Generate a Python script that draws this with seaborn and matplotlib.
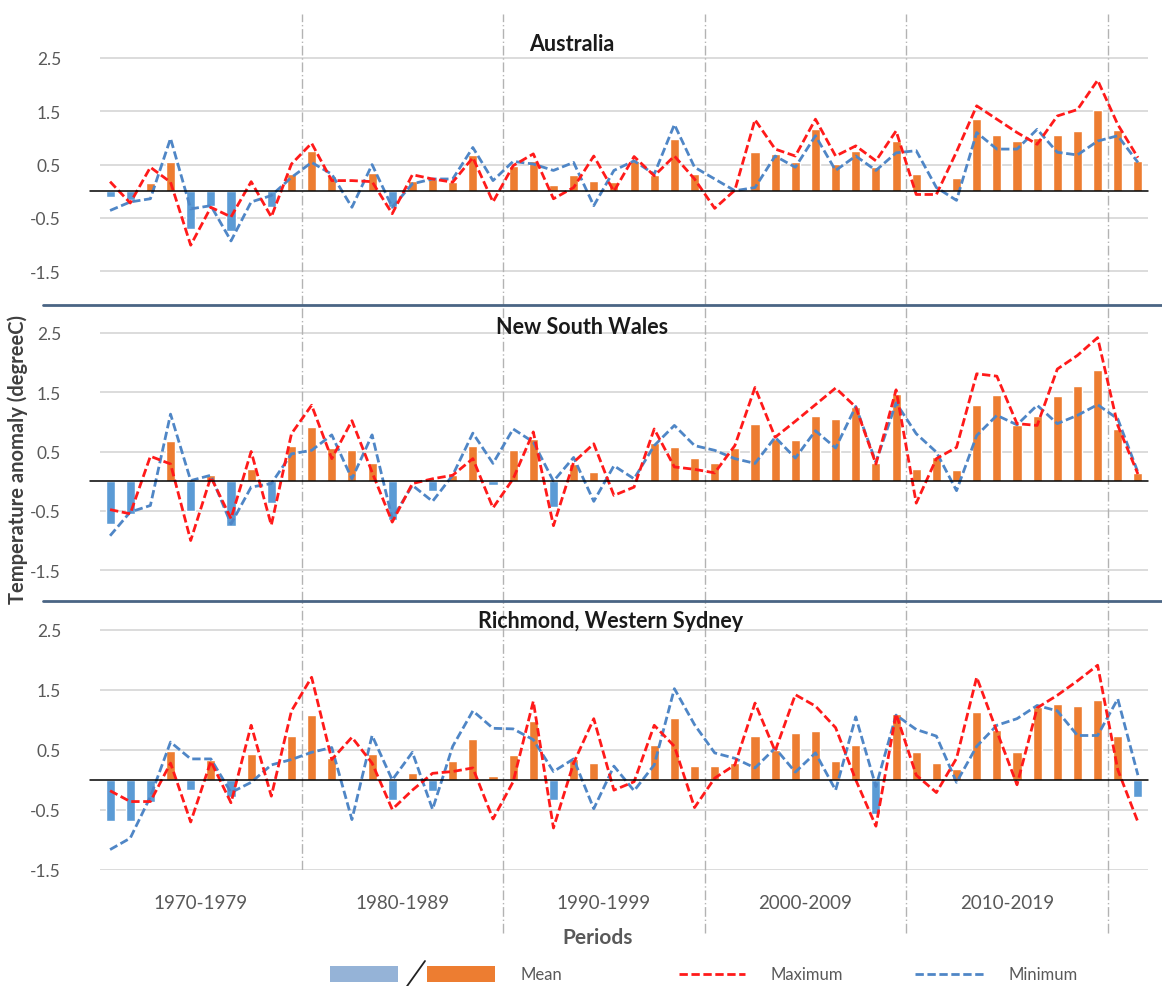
import numpy as np
import pandas as pd
import matplotlib.pyplot as plt
import seaborn as sns
from matplotlib.lines import Line2D
from matplotlib.patches import Rectangle

# ---- data (temperature anomalies, degC) ----
years = list(range(1970, 2022))
periods = ['1970-1979', '1980-1989', '1990-1999', '2000-2009', '2010-2019']

aus_mean = [-0.10, -0.17, 0.15, 0.54, -0.70, -0.27, -0.75, -0.02, -0.30, 0.32,
            0.75, 0.29, 0.02, 0.35, -0.30, 0.20, 0.23, 0.18, 0.68, 0.00,
            0.48, 0.57, 0.12, 0.31, 0.19, 0.17, 0.56, 0.31, 0.98, 0.32,
            0.00, 0.00, 0.73, 0.70, 0.54, 1.16, 0.51, 0.76, 0.45, 0.94,
            0.32, 0.00, 0.25, 1.35, 1.05, 0.94, 1.00, 1.05, 1.12, 1.52,
            1.14, 0.56]
aus_max = [0.18, -0.22, 0.45, 0.17, -1.01, -0.30, -0.48, 0.18, -0.48, 0.51,
           0.90, 0.20, 0.20, 0.18, -0.42, 0.31, 0.23, 0.17, 0.63, -0.20,
           0.48, 0.70, -0.14, 0.07, 0.66, 0.00, 0.65, 0.29, 0.66, 0.23,
           -0.32, 0.02, 1.34, 0.79, 0.66, 1.35, 0.66, 0.85, 0.57, 1.13,
           -0.06, -0.06, 0.74, 1.60, 1.35, 1.10, 0.88, 1.41, 1.53, 2.08,
           1.25, 0.63]
aus_min = [-0.36, -0.20, -0.14, 0.99, -0.33, -0.27, -0.93, -0.20, -0.08, 0.26,
           0.54, 0.32, -0.30, 0.50, -0.30, 0.14, 0.23, 0.23, 0.82, 0.20,
           0.56, 0.51, 0.39, 0.54, -0.27, 0.39, 0.57, 0.32, 1.25, 0.45,
           0.23, 0.01, 0.07, 0.66, 0.45, 1.04, 0.39, 0.66, 0.39, 0.72,
           0.76, 0.07, -0.17, 1.10, 0.79, 0.79, 1.16, 0.73, 0.68, 0.94,
           1.04, 0.54]

nsw_mean = [-0.72, -0.55, -0.02, 0.67, -0.51, 0.10, -0.75, 0.21, -0.37, 0.60,
            0.91, 0.56, 0.53, 0.31, -0.66, 0.00, -0.17, 0.10, 0.60, -0.07,
            0.52, 0.71, -0.44, 0.29, 0.15, 0.00, 0.00, 0.65, 0.58, 0.39,
            0.31, 0.56, 0.96, 0.71, 0.69, 1.10, 1.05, 1.25, 0.31, 1.47,
            0.21, 0.40, 0.19, 1.28, 1.46, 0.95, 1.10, 1.43, 1.60, 1.87,
            0.88, 0.13]
nsw_max = [-0.48, -0.55, 0.42, 0.29, -1.00, 0.07, -0.63, 0.50, -0.74, 0.80,
           1.28, 0.38, 1.02, 0.15, -0.69, -0.04, 0.04, 0.10, 0.38, -0.45,
           0.04, 0.83, -0.75, 0.32, 0.63, -0.24, -0.10, 0.88, 0.24, 0.20,
           0.14, 0.60, 1.58, 0.74, 1.01, 1.29, 1.57, 1.25, 0.29, 1.54,
           -0.37, 0.38, 0.57, 1.81, 1.77, 0.97, 0.94, 1.89, 2.12, 2.42,
           0.94, 0.12]
nsw_min = [-0.92, -0.52, -0.41, 1.13, 0.01, 0.10, -0.72, -0.10, -0.04, 0.46,
           0.52, 0.78, 0.04, 0.78, -0.63, -0.07, -0.34, 0.10, 0.81, 0.30,
           0.88, 0.66, 0.00, 0.40, -0.34, 0.26, 0.04, 0.60, 0.94, 0.60,
           0.52, 0.38, 0.30, 0.74, 0.39, 0.85, 0.56, 1.26, 0.32, 1.32,
           0.80, 0.49, -0.16, 0.77, 1.11, 0.95, 1.28, 0.97, 1.11, 1.29,
           1.05, 0.15]

ws_mean = [-0.68, -0.68, -0.36, 0.48, -0.17, 0.34, -0.28, 0.43, 0.00, 0.73,
           1.08, 0.36, 0.02, 0.44, -0.34, 0.11, -0.18, 0.32, 0.68, 0.07,
           0.42, 0.98, -0.34, 0.35, 0.28, 0.00, 0.00, 0.59, 1.03, 0.23,
           0.23, 0.29, 0.74, 0.50, 0.78, 0.82, 0.32, 0.59, -0.56, 1.09,
           0.46, 0.28, 0.18, 1.13, 0.83, 0.46, 1.22, 1.27, 1.23, 1.33,
           0.73, -0.29]
ws_max = [-0.18, -0.36, -0.36, 0.28, -0.70, 0.31, -0.38, 0.91, -0.27, 1.15,
          1.71, 0.34, 0.71, 0.28, -0.49, -0.17, 0.11, 0.14, 0.20, -0.65,
          -0.03, 1.31, -0.80, 0.28, 1.02, -0.17, -0.03, 0.91, 0.56, -0.46,
          0.03, 0.25, 1.28, 0.48, 1.42, 1.23, 0.87, 0.00, -0.77, 1.10,
          0.08, -0.21, 0.36, 1.71, 0.81, -0.08, 1.20, 1.41, 1.65, 1.91,
          0.17, -0.70]
ws_min = [-1.16, -0.97, -0.28, 0.63, 0.35, 0.35, -0.21, -0.04, 0.25, 0.34,
          0.46, 0.54, -0.66, 0.74, 0.00, 0.46, -0.49, 0.56, 1.15, 0.86,
          0.85, 0.67, 0.14, 0.35, -0.48, 0.23, -0.18, 0.25, 1.52, 0.92,
          0.45, 0.36, 0.20, 0.53, 0.13, 0.45, -0.17, 1.05, -0.11, 1.08,
          0.84, 0.73, -0.04, 0.56, 0.91, 1.02, 1.24, 1.15, 0.74, 0.74,
          1.35, 0.08]

titles = ['Australia', 'New South Wales', 'Richmond, Western Sydney']

# ---- styling ----
BLUE = '#5b9bd5'
ORANGE = '#ed7d31'
RED = '#ff1a1a'
MINBLUE = '#4f86c6'
GRID = '#d9d9d9'
SEP = '#b3b3b3'
TXT = '#595959'

sns.set_theme(style='white')
plt.rcParams['font.family'] = ['Lato', 'DejaVu Sans']

W, H = 1162, 987
fig = plt.figure(figsize=(W / 100, H / 100), dpi=100)

# pixel layout of the three stacked panels: (top, bottom, ylim)
left_px, right_px = 100, 1148
panels = [
    (15, 306, (-2.13, 3.32)),
    (306, 602, (-2.02, 2.97)),
    (602, 871, (-1.50, 2.98)),
]
title_pos = [(0.450, 0.897), (0.460, 0.929), (0.487, 0.926)]
series = [(aus_mean, aus_max, aus_min), (nsw_mean, nsw_max, nsw_min),
          (ws_mean, ws_max, ws_min)]

idx = np.arange(len(years))
seps = [9.5, 19.5, 29.5, 39.5, 49.5]
centers = [4.5, 14.5, 24.5, 34.5, 44.5]

axes = []
for k, ((top, bot, ylim), (mean, tmax, tmin)) in enumerate(zip(panels, series)):
    ax = fig.add_axes([left_px / W, 1 - bot / H, (right_px - left_px) / W, (bot - top) / H])
    axes.append(ax)
    df = pd.DataFrame({'year': years, 'mean': mean,
                       'sign': ['neg' if v < 0 else 'pos' for v in mean]})
    sns.barplot(data=df, x='year', y='mean', hue='sign',
                palette={'neg': BLUE, 'pos': ORANGE}, dodge=False, width=0.45,
                saturation=1, errorbar=None, legend=False, ax=ax, zorder=3)
    sns.lineplot(x=idx, y=tmax, color=RED, lw=2.0, linestyle=(0, (3, 1.3)), ax=ax, zorder=5)
    sns.lineplot(x=idx, y=tmin, color=MINBLUE, lw=2.0, linestyle=(0, (3, 1.3)), ax=ax, zorder=4)

    ax.set_xlim(-0.5, 51.5)
    ax.set_ylim(*ylim)
    ax.set_yticks([-1.5, -0.5, 0.5, 1.5, 2.5])
    ax.set_yticklabels(['-1.5', '-0.5', '0.5', '1.5', '2.5'])
    ax.yaxis.grid(True, color=GRID, lw=1.3, zorder=0)
    ax.set_axisbelow(True)
    ax.tick_params(axis='y', length=0, pad=28, labelsize=12.5, labelcolor=TXT)
    for s in ax.spines.values():
        s.set_visible(False)
    ax.set_xlabel('')
    ax.set_ylabel('')
    ax.axhline(0, xmin=-0.0095, xmax=1.0, color='black', lw=1.1, zorder=6, clip_on=False)
    for x in seps:
        ax.axvline(x, color=SEP, lw=1.0, ls=(0, (7, 2, 1, 2)), zorder=1)
    ax.text(*title_pos[k], titles[k], transform=ax.transAxes, ha='center', va='center',
            fontsize=15.5, fontweight='bold', color='#1a1a1a')
    if k < 2:
        ax.set_xticks([])
    else:
        ax.set_xticks(centers)
        ax.set_xticklabels(periods)
        ax.tick_params(axis='x', length=0, pad=17, labelsize=13.5, labelcolor=TXT)
        ax.vlines(seps[1:], -2.55, -1.5, color=SEP, lw=1.0, ls=(0, (7, 2, 1, 2)), clip_on=False)

# dark separators between panels
for ypx in (306, 602):
    fig.add_artist(Line2D([43 / W, 1.0], [1 - ypx / H] * 2, color='#4a6584', lw=2.0,
                          transform=fig.transFigure))

fig.text(18 / W, 1 - 460 / H, 'Temperature anomaly (degreeC)', rotation=90,
         ha='center', va='center', fontsize=14.5, fontweight='bold', color='#404040')
fig.text(598 / W, 1 - 938 / H, 'Periods', ha='center', va='center',
         fontsize=15, fontweight='bold', color=TXT)

# ---- legend (bottom) ----
ly = 1 - 975 / H
fig.add_artist(Rectangle((330 / W, ly - 8 / H), 68 / W, 16 / H, fc='#95b3d7', ec='none',
                         transform=fig.transFigure))
fig.add_artist(Line2D([405 / W, 425 / W], [1 - 990 / H, 1 - 962 / H], color='#222222', lw=1.3,
                      transform=fig.transFigure))
fig.add_artist(Rectangle((427 / W, ly - 8 / H), 68 / W, 16 / H, fc=ORANGE, ec='none',
                         transform=fig.transFigure))
fig.text(520 / W, ly, 'Mean', ha='left', va='center', fontsize=12, color=TXT)
fig.add_artist(Line2D([679 / W, 745 / W], [ly, ly], color=RED, lw=2.0, ls=(0, (3, 1.3)),
                      transform=fig.transFigure))
fig.text(770 / W, ly, 'Maximum', ha='left', va='center', fontsize=12, color=TXT)
fig.add_artist(Line2D([915 / W, 984 / W], [ly, ly], color=MINBLUE, lw=2.0, ls=(0, (3, 1.3)),
                      transform=fig.transFigure))
fig.text(1009 / W, ly, 'Minimum', ha='left', va='center', fontsize=12, color=TXT)

fig.savefig('out.png', dpi=100, facecolor='white')
